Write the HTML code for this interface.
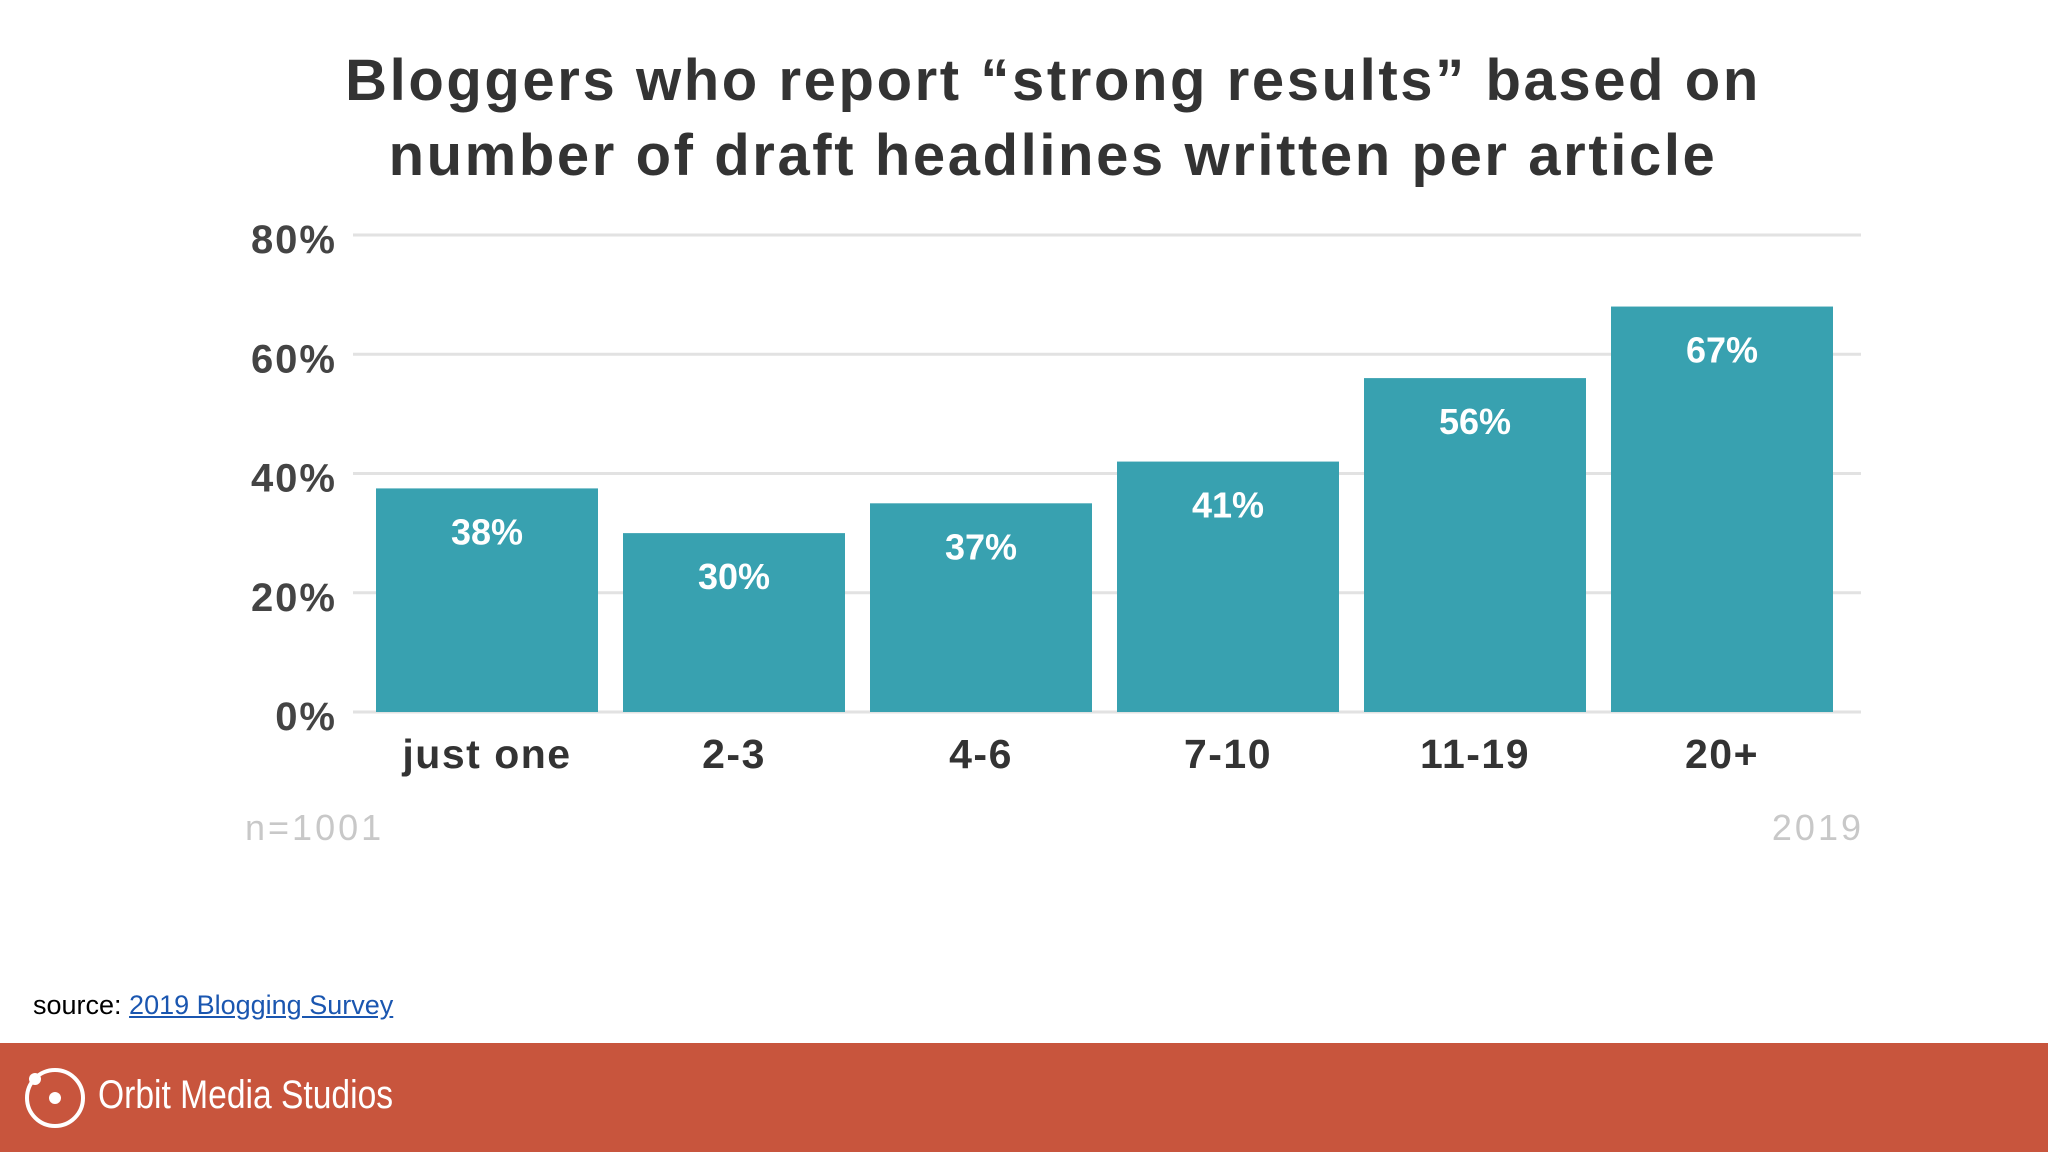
<!DOCTYPE html>
<html><head><meta charset="utf-8"><style>
html,body{margin:0;padding:0;width:2048px;height:1152px;overflow:hidden;background:#fff;font-family:"Liberation Sans",sans-serif;}
#footer{position:absolute;left:0;top:1043px;width:2048px;height:109px;background:#C8553D;}
#src{position:absolute;left:33px;top:990px;font-size:27px;color:#000;}
#src a{color:#1a56b0;text-decoration:underline;}
</style></head><body>
<svg id="chart" width="2048" height="1040" style="position:absolute;left:0;top:0">
<text x="1053" y="100" text-anchor="middle" font-size="58" font-weight="bold" fill="#333" letter-spacing="2.6">Bloggers who report “strong results” based on</text>
<text x="1053" y="175" text-anchor="middle" font-size="58" font-weight="bold" fill="#333" letter-spacing="2.6">number of draft headlines written per article</text>
<g id="grid"></g><g id="bars"></g>
<text x="245" y="840" font-size="36" fill="#c8c8c8" letter-spacing="3">n=1001</text>
<text x="1864" y="840" text-anchor="end" font-size="36" fill="#c8c8c8" letter-spacing="3">2019</text>
</svg>
<div id="src">source: <a>2019 Blogging Survey</a></div>
<div id="footer">
<svg width="90" height="109" style="position:absolute;left:10px;top:0">
<circle cx="45" cy="55" r="28" fill="none" stroke="#fff" stroke-width="4"/>
<circle cx="45" cy="55" r="6" fill="#fff"/><circle cx="25" cy="36" r="6" fill="#fff"/></svg>
<div style="position:absolute;left:98px;top:30px;font-size:40px;color:#fff;transform:scaleX(0.84);transform-origin:left;white-space:nowrap">Orbit Media Studios</div>
</div>
<script>
const categories=["just one","2-3","4-6","7-10","11-19","20+"];
const values=[37.5,30,35,42,56,68];
const labels=["38%","30%","37%","41%","56%","67%"];
const ticks=[0,20,40,60,80];
const NS="http://www.w3.org/2000/svg";
const y0=712,yTop=235,xL=353,xR=1861,bx0=376,step=247,bw=222;
function y(v){return y0-(v/80)*(y0-yTop);}
function mk(t,a){const e=document.createElementNS(NS,t);for(const k in a)e.setAttribute(k,a[k]);return e;}
const grid=document.getElementById('grid'),bars=document.getElementById('bars');
ticks.forEach(t=>{
 const l=mk('line',{x1:xL,x2:xR,y1:y(t),y2:y(t),stroke:'#e2e2e2','stroke-width':3});
 
 
 grid.appendChild(l);
 const tx=mk('text',{x:337,y:y(t)+18,'text-anchor':'end','font-size':40,'font-weight':'bold',fill:'#444','letter-spacing':2});
 tx.textContent=t+'%';
 
 
 grid.appendChild(tx);
});
categories.forEach((c,i)=>{
 const x=bx0+i*step;
 const r=mk('rect',{x:x,y:y(values[i]),width:bw,height:y0-y(values[i]),fill:'#38A1B0'});
 
 
 bars.appendChild(r);
 const v=mk('text',{x:x+bw/2,y:y(values[i])+56,'text-anchor':'middle','font-size':36,'font-weight':'bold',fill:'#fff'});
 v.textContent=labels[i];
 
 
 bars.appendChild(v);
 const l=mk('text',{x:x+bw/2,y:768,'text-anchor':'middle','font-size':41,'font-weight':'bold',fill:'#333','letter-spacing':1.5});
 l.textContent=c;
 
 
 bars.appendChild(l);
});
</script>
</body></html>
